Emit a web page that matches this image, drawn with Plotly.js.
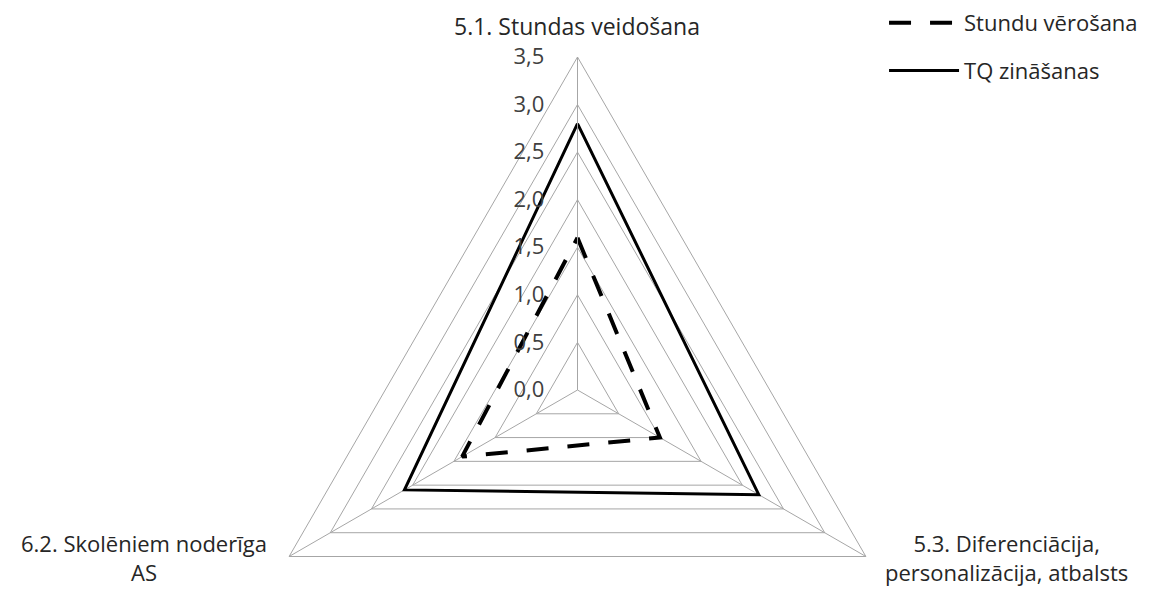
<!DOCTYPE html>
<html>
<head>
<meta charset="utf-8">
<script src="https://cdn.plot.ly/plotly-3.0.1.min.js"></script>
<style>
html,body{margin:0;padding:0;overflow:hidden;background:#fff;}
#chart{width:1155px;height:723px;}
</style>
</head>
<body>
<div id="chart"></div>
<script>
var categories = ['5.1. Stundas veidošana', '5.3. Diferenciācija,<br>personalizācija, atbalsts', '6.2. Skolēniem noderīga<br>AS'];
var stunduVerosana = [1.6, 1.0, 1.4];
var tqZinasanas = [2.8, 2.2, 2.1];
var seriesNames = ['Stundu vērošana', 'TQ zināšanas'];
var radialTicks = [0, 0.5, 1, 1.5, 2, 2.5, 3, 3.5];

function closeLoop(a){ return a.concat([a[0]]); }

var traces = [
  {
    type: 'scatterpolar', mode: 'lines', name: seriesNames[0],
    r: closeLoop(stunduVerosana), theta: closeLoop(categories),
    line: {color: '#000000', width: 4, dash: '22px,19px'},
    legendgroup: 'a', hoverinfo: 'skip'
  },
  {
    type: 'scatterpolar', mode: 'lines', name: seriesNames[1],
    r: closeLoop(tqZinasanas), theta: closeLoop(categories),
    line: {color: '#000000', width: 3},
    legendgroup: 'b', hoverinfo: 'skip'
  }
];

var font = '"Open Sans", "Noto Sans", sans-serif';
var txtColor = '#262626';
// category label placement (paper coordinates)
var catLabelPos = [
  {x: 0.4996, y: 1.0465, ya: 'middle'},
  {x: 0.871, y: 0.2012, ya: 'bottom'},
  {x: 0.1251, y: 0.2012, ya: 'bottom'}
];
var annotations = categories.map(function(c, i){
  return {
    text: c, xref: 'paper', yref: 'paper', x: catLabelPos[i].x, y: catLabelPos[i].y,
    xanchor: 'center', yanchor: catLabelPos[i].ya, align: 'center', showarrow: false,
    font: {family: font, size: 22, color: txtColor}
  };
});
annotations[0].font.size = 23;

var layout = {
  width: 1155, height: 723,
  margin: {l: 0, r: 0, t: 57, b: 0, autoexpand: false},
  paper_bgcolor: '#ffffff',
  separators: ', ',
  font: {family: font, size: 22, color: txtColor},
  showlegend: true,
  legend: {
    x: 0.7654, y: 1.0825, xanchor: 'left', yanchor: 'top',
    traceorder: 'grouped', tracegroupgap: 16, itemwidth: 70,
    font: {family: font, size: 22, color: txtColor},
    bgcolor: 'rgba(0,0,0,0)'
  },
  annotations: annotations,
  polar: {
    domain: {x: [0, 1], y: [0, 1]},
    gridshape: 'linear',
    bgcolor: '#ffffff',
    radialaxis: {
      range: [0, 3.5], tickvals: radialTicks, tickformat: '.1f',
      angle: 90, side: 'counterclockwise',
      showline: true, linecolor: '#a6a6a6', linewidth: 1,
      showgrid: true, gridcolor: '#a6a6a6', gridwidth: 1,
      ticks: 'outside', ticklen: 25, tickcolor: 'rgba(0,0,0,0)',
      tickangle: 90,
      tickfont: {family: font, size: 22, color: '#404040'}
    },
    angularaxis: {
      type: 'category', rotation: 90, direction: 'clockwise',
      showline: true, linecolor: '#a6a6a6', linewidth: 1,
      showgrid: true, gridcolor: '#a6a6a6', gridwidth: 1,
      ticks: '', showticklabels: false
    }
  }
};

Plotly.newPlot('chart', traces, layout, {displayModeBar: false, staticPlot: true});
</script>
</body>
</html>
